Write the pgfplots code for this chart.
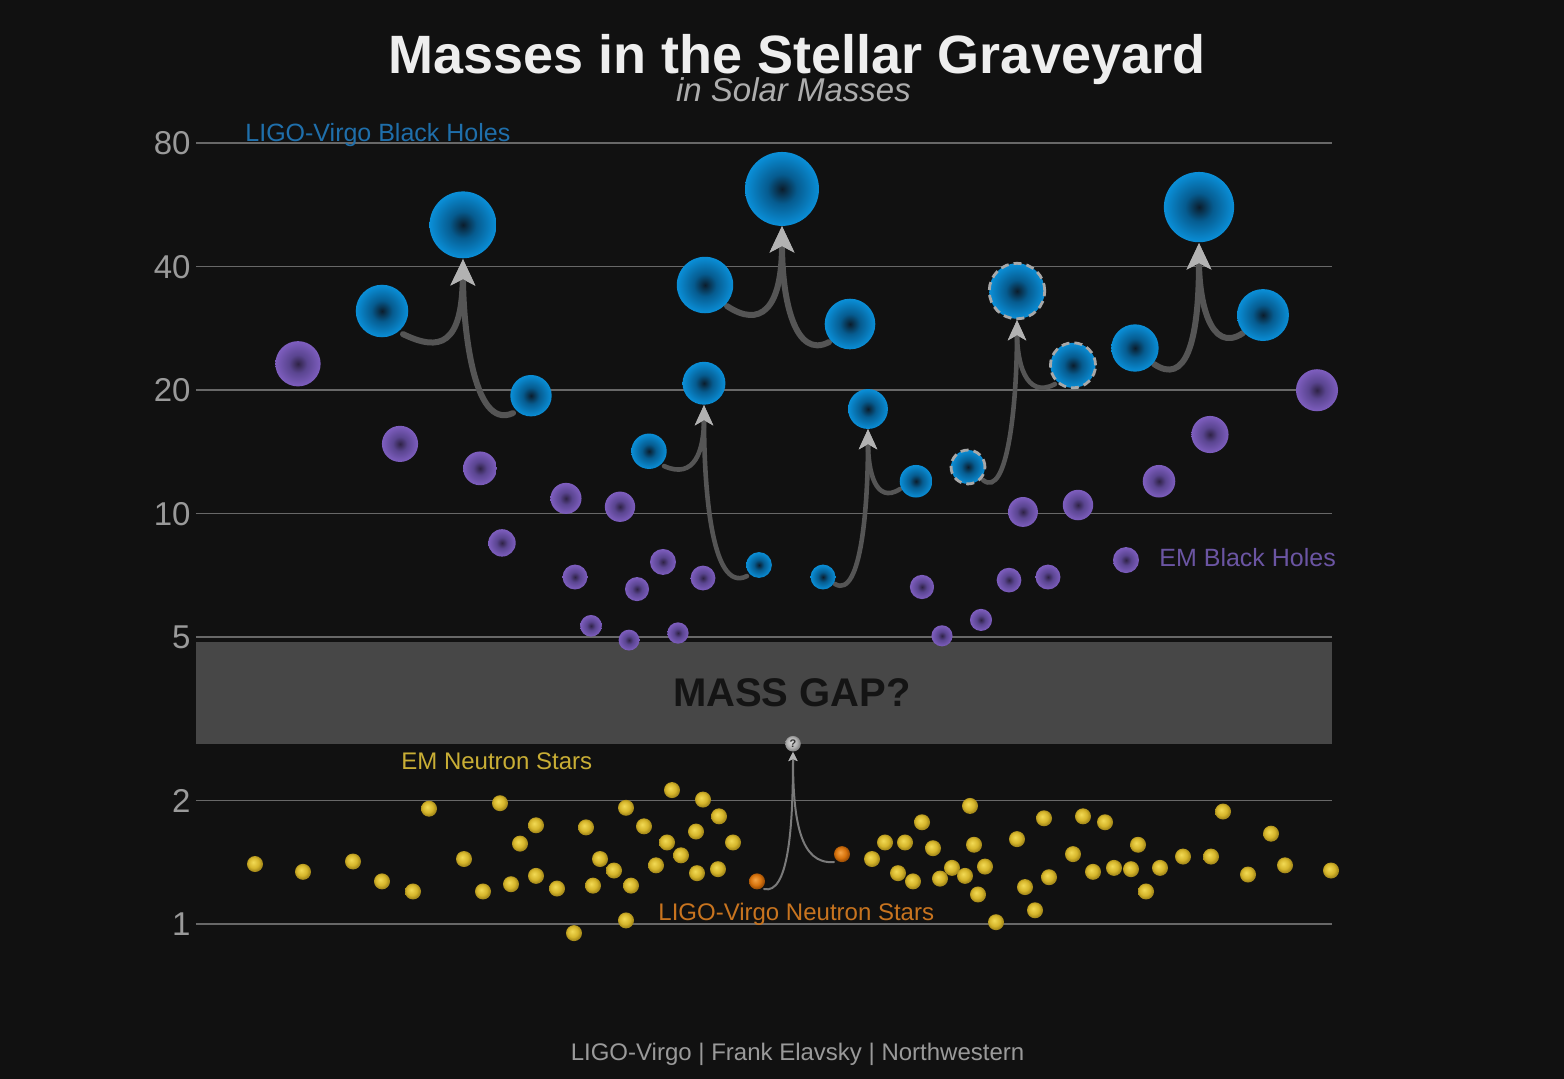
\documentclass[border=0pt]{standalone}
\usepackage{pgfplots}
\pgfplotsset{compat=1.18}
\usepackage{pgfplotstable}
\usetikzlibrary{arrows.meta}
\usepackage{fontspec}
\setmainfont{Liberation Sans}

\definecolor{bgc}{HTML}{111111}
\definecolor{gridc}{HTML}{686868}
\definecolor{tickc}{HTML}{9A9A9A}
\definecolor{gapc}{HTML}{474747}
\definecolor{gaptext}{HTML}{141414}
\definecolor{titlec}{HTML}{EEEEEE}
\definecolor{subc}{HTML}{ADADAD}
\definecolor{footc}{HTML}{9A9A9A}
\definecolor{bluelab}{HTML}{1F6FAB}
\definecolor{purplab}{HTML}{6B55A3}
\definecolor{yellab}{HTML}{C9AE35}
\definecolor{oralab}{HTML}{C8741F}
\definecolor{curvec}{HTML}{555555}
\definecolor{arrowc}{HTML}{B2B2B2}
\definecolor{thinc}{HTML}{7A7A7A}
\definecolor{dashc}{HTML}{A8A8A8}
\definecolor{b0}{HTML}{0B1D2C}\definecolor{b1}{HTML}{065C90}\definecolor{b2}{HTML}{0A8FD8}
\definecolor{p0}{HTML}{2F2346}\definecolor{p1}{HTML}{5A4590}\definecolor{p2}{HTML}{7E5EBF}
\definecolor{y0}{HTML}{F2DA55}\definecolor{y1}{HTML}{D6B62C}\definecolor{y2}{HTML}{A68A1A}
\definecolor{o0}{HTML}{F5A445}\definecolor{o1}{HTML}{D8740E}\definecolor{o2}{HTML}{A05006}
\definecolor{g0}{HTML}{D8D8D8}\definecolor{g1}{HTML}{B4B4B4}\definecolor{g2}{HTML}{858585}

\pgfdeclareradialshading{bluesh}{\pgfpointorigin}{color(0bp)=(b0); color(10bp)=(b1); color(25bp)=(b2); color(50bp)=(b2)}
\pgfdeclareradialshading{purpsh}{\pgfpointorigin}{color(0bp)=(p0); color(10bp)=(p1); color(25bp)=(p2); color(50bp)=(p2)}
\pgfdeclareradialshading{yelsh}{\pgfpoint{-6bp}{6bp}}{color(0bp)=(y0); color(16bp)=(y1); color(25bp)=(y2); color(50bp)=(y2)}
\pgfdeclareradialshading{orash}{\pgfpoint{-6bp}{6bp}}{color(0bp)=(o0); color(16bp)=(o1); color(25bp)=(o2); color(50bp)=(o2)}
\pgfdeclareradialshading{graysh}{\pgfpoint{-6bp}{6bp}}{color(0bp)=(g0); color(16bp)=(g1); color(25bp)=(g2); color(50bp)=(g2)}

\pgfdeclareplotmark{bluedot}{\pgfpathcircle{\pgfpointorigin}{\pgfplotmarksize}\pgfshadepath{bluesh}{0}\pgfusepath{}}
\pgfdeclareplotmark{purpdot}{\pgfpathcircle{\pgfpointorigin}{\pgfplotmarksize}\pgfshadepath{purpsh}{0}\pgfusepath{}}
\pgfdeclareplotmark{yeldot}{\pgfpathcircle{\pgfpointorigin}{\pgfplotmarksize}\pgfshadepath{yelsh}{0}\pgfusepath{}}
\pgfdeclareplotmark{oradot}{\pgfpathcircle{\pgfpointorigin}{\pgfplotmarksize}\pgfshadepath{orash}{0}\pgfusepath{}}
\pgfdeclareplotmark{graydot}{\pgfpathcircle{\pgfpointorigin}{\pgfplotmarksize}\pgfshadepath{graysh}{0}\pgfusepath{}}

\pgfmathdeclarefunction{pm}{1}{\pgfmathparse{2^((924-#1)/123.5)}}

% LIGO-Virgo black holes (x position, mass in solar masses)
\pgfplotstableread{
x m
463 50.6
382 31.2
531 19.4
782 61.9
705 36.1
850 29.0
1199 55.9
1135 25.35
1263 30.5
704 20.8
649 14.2
759 7.50
868 18.0
916 12.0
823 7.01
1017 34.9
1073 23.0
968 13.0
}\ligobh
\pgfplotstableread{
x m
1017 34.9
1073 23.0
968 13.0
}\ligodash
% EM black holes
\pgfplotstableread{
x m
298 23.2
1317 20.0
1210 15.6
400 14.8
480 12.9
1159 12.0
566 10.9
620 10.4
1023 10.1
1078 10.5
502 8.49
663 7.63
575 7.01
703 6.97
1009 6.89
1048 7.01
637 6.55
922 6.63
981 5.51
591 5.33
678 5.12
629 4.92
942 5.04
}\embh
% EM neutron stars
\pgfplotstableread{
x m
255 1.40
303 1.34
353 1.42
382 1.27
413 1.20
429 1.91
464 1.44
483 1.20
500 1.97
511 1.25
520 1.57
536 1.74
536 1.31
557 1.22
574 0.95
586 1.72
593 1.24
600 1.44
614 1.35
626 1.92
626 1.02
631 1.24
644 1.73
656 1.39
667 1.58
672 2.12
681 1.47
696 1.68
697 1.33
703 2.01
718 1.36
719 1.83
733 1.58
872 1.44
885 1.58
898 1.33
905 1.58
913 1.27
922 1.77
933 1.53
940 1.29
952 1.37
965 1.31
970 1.94
974 1.56
978 1.18
985 1.38
996 1.01
1017 1.61
1025 1.23
1035 1.08
1044 1.81
1049 1.30
1073 1.48
1083 1.83
1093 1.34
1105 1.77
1114 1.37
1131 1.36
1138 1.56
1146 1.20
1160 1.37
1183 1.46
1211 1.46
1223 1.88
1248 1.32
1271 1.66
1285 1.39
1331 1.35
}\emns
\pgfplotstableread{
x m
757 1.27
842 1.48
}\ligons

\tikzset{
 bigc/.style={draw=curvec, line width=3pt, line cap=round, -{Stealth[length=13pt,width=12pt,inset=3pt,color=arrowc]}},
 medc/.style={draw=curvec, line width=2.3pt, line cap=round, -{Stealth[length=10pt,width=9pt,inset=2.5pt,color=arrowc]}},
 thinc/.style={draw=thinc, line width=1pt, line cap=round, -{Stealth[length=4.5pt,width=4.5pt,inset=1pt,color=arrowc]}},
}

\begin{document}
\begin{tikzpicture}
\fill[bgc] (0pt,0pt) rectangle (782pt,539.5pt);
\begin{axis}[
  at={(98pt,45.725pt)}, anchor=south west,
  scale only axis, width=568pt, height=442.033pt,
  xmin=196, xmax=1332, ymin=0.7, ymax=100, ymode=log,
  clip=false, axis line style={draw=none}, xtick=\empty,
  ytick={1,2,5,10,20,40,80}, yticklabels={1,2,5,10,20,40,80},
  yminorticks=false, major tick length=0pt,
  ymajorgrids, grid style={draw=gridc, line width=0.75pt},
  yticklabel style={font=\fontsize{16.5pt}{19pt}\selectfont, text=tickc, inner sep=0pt, xshift=-2.5pt},
  /pgf/number format/assume math mode=true,
]
% mass gap band
\addplot[fill=gapc, draw=none] coordinates {(196,2.74) (1332,2.74) (1332,4.87) (196,4.87)} -- cycle;

% merger curves
\draw[bigc] (axis cs:403,{pm(334)}) .. controls (axis cs:440,{pm(352)}) and (axis cs:462,{pm(345)}) .. (axis cs:463,{pm(259)});
\draw[bigc] (axis cs:513,{pm(413)}) .. controls (axis cs:472,{pm(432)}) and (axis cs:463,{pm(320)}) .. (axis cs:463,{pm(259)});
\draw[bigc] (axis cs:727,{pm(306)}) .. controls (axis cs:760,{pm(328)}) and (axis cs:782,{pm(310)}) .. (axis cs:782,{pm(226)});
\draw[bigc] (axis cs:829,{pm(342)}) .. controls (axis cs:795,{pm(360)}) and (axis cs:782,{pm(300)}) .. (axis cs:782,{pm(226)});
\draw[bigc] (axis cs:1154,{pm(364)}) .. controls (axis cs:1185,{pm(385)}) and (axis cs:1199,{pm(345)}) .. (axis cs:1199,{pm(243)});
\draw[bigc] (axis cs:1243,{pm(333)}) .. controls (axis cs:1210,{pm(355)}) and (axis cs:1199,{pm(300)}) .. (axis cs:1199,{pm(243)});
\draw[medc] (axis cs:664,{pm(466)}) .. controls (axis cs:695,{pm(480)}) and (axis cs:704,{pm(450)}) .. (axis cs:704,{pm(405)});
\draw[medc] (axis cs:747,{pm(576)}) .. controls (axis cs:710,{pm(595)}) and (axis cs:704,{pm(480)}) .. (axis cs:704,{pm(405)});
\draw[medc] (axis cs:835,{pm(584)}) .. controls (axis cs:862,{pm(600)}) and (axis cs:868,{pm(500)}) .. (axis cs:868,{pm(429)});
\draw[medc] (axis cs:900,{pm(489)}) .. controls (axis cs:875,{pm(505)}) and (axis cs:868,{pm(470)}) .. (axis cs:868,{pm(429)});
\draw[medc] (axis cs:983,{pm(480)}) .. controls (axis cs:1008,{pm(500)}) and (axis cs:1017,{pm(400)}) .. (axis cs:1017,{pm(320)});
\draw[medc] (axis cs:1055,{pm(384)}) .. controls (axis cs:1025,{pm(400)}) and (axis cs:1017,{pm(360)}) .. (axis cs:1017,{pm(320)});
\draw[thinc] (axis cs:764,{pm(889)}) .. controls (axis cs:788,{pm(895)}) and (axis cs:793,{pm(830)}) .. (axis cs:793,{pm(752)});
\draw[thinc] (axis cs:834,{pm(862)}) .. controls (axis cs:800,{pm(865)}) and (axis cs:793,{pm(820)}) .. (axis cs:793,{pm(752)});

% EM black holes
\addplot[scatter, only marks, mark=purpdot,
  visualization depends on={2.35*sqrt(\thisrow{m}) \as \rad},
  scatter/@pre marker code/.append style={/tikz/mark size=\rad}]
  table[x=x, y=m] {\embh};
% LIGO-Virgo black holes
\addplot[scatter, only marks, mark=bluedot,
  visualization depends on={2.35*sqrt(\thisrow{m}) \as \rad},
  scatter/@pre marker code/.append style={/tikz/mark size=\rad}]
  table[x=x, y=m] {\ligobh};
\addplot[scatter, only marks, mark=o,
  scatter/use mapped color={draw=dashc},
  mark options={line width=1.4pt, dash pattern=on 4pt off 2.5pt},
  visualization depends on={2.35*sqrt(\thisrow{m}) \as \rad},
  scatter/@pre marker code/.append style={/tikz/mark size=\rad}]
  table[x=x, y=m] {\ligodash};
% neutron stars
\addplot[only marks, mark=yeldot, mark size=4pt] table[x=x, y=m] {\emns};
\addplot[only marks, mark=oradot, mark size=4pt] table[x=x, y=m] {\ligons};
\addplot[only marks, mark=graydot, mark size=3.9pt] coordinates {(793,2.75)};
% legend marker
\addplot[only marks, mark=purpdot, mark size=6.5pt] coordinates {(1126,7.71)};
\end{axis}

\node[font=\fontsize{5.5pt}{6pt}\selectfont\bfseries, text=black!80, inner sep=0pt] at (396.5pt,167.5pt) {?};
\node[anchor=base, inner sep=0pt, text=titlec, font=\fontsize{27pt}{30pt}\selectfont\bfseries] at (398.5pt,502.5pt) {Masses in the Stellar Graveyard};
\node[anchor=base, inner sep=0pt, text=subc, font=\fontsize{16.5pt}{19pt}\selectfont\itshape] at (396.75pt,488.5pt) {in Solar Masses};
\node[anchor=base west, inner sep=0pt, text=bluelab, font=\fontsize{12.5pt}{14pt}\selectfont] at (122.5pt,468.5pt) {LIGO-Virgo Black Holes};
\node[anchor=base west, inner sep=0pt, text=purplab, font=\fontsize{12.5pt}{14pt}\selectfont] at (579.5pt,256pt) {EM Black Holes};
\node[anchor=base west, inner sep=0pt, text=yellab, font=\fontsize{12pt}{14pt}\selectfont] at (200.5pt,154.5pt) {EM Neutron Stars};
\node[anchor=base west, inner sep=0pt, text=oralab, font=\fontsize{12pt}{14pt}\selectfont] at (329pt,79pt) {LIGO-Virgo Neutron Stars};
\node[anchor=base, inner sep=0pt, text=gaptext, font=\fontsize{20pt}{22pt}\selectfont\bfseries] at (396pt,186pt) {MASS GAP?};
\node[anchor=base, inner sep=0pt, text=footc, font=\fontsize{12pt}{14pt}\selectfont] at (398.75pt,9pt) {LIGO-Virgo | Frank Elavsky | Northwestern};
\end{tikzpicture}
\end{document}
